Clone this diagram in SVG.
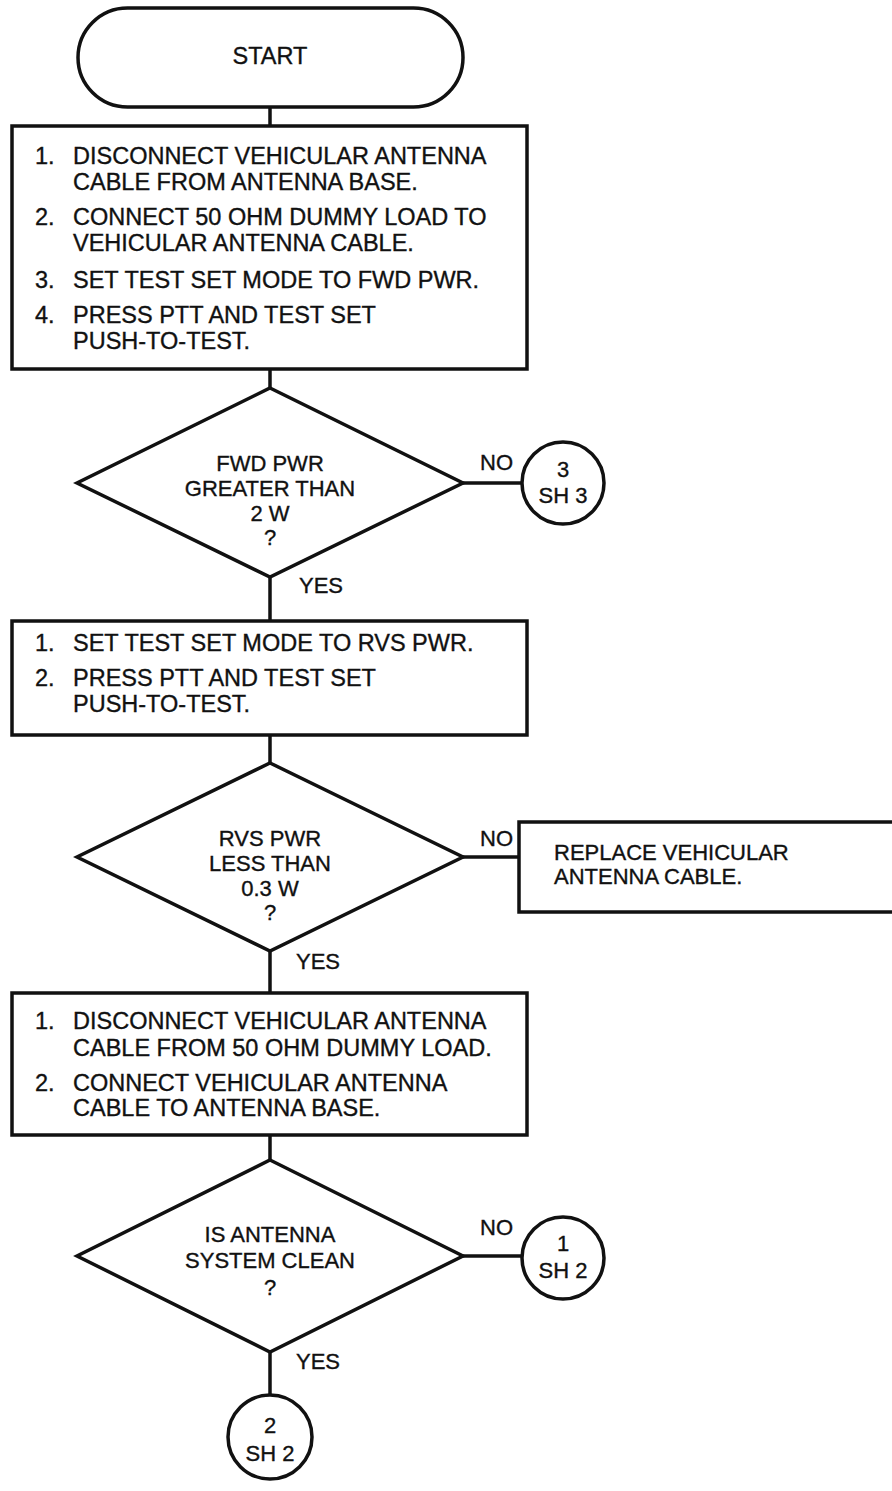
<svg xmlns="http://www.w3.org/2000/svg" width="892" height="1491" viewBox="0 0 892 1491">
<style>
.s{fill:#fff;stroke:#111;stroke-width:3.5;stroke-linejoin:miter}
.c{stroke:#111;stroke-width:3.5;fill:none}
text{font-family:"Liberation Sans",Arial,sans-serif;font-size:23.5px;fill:#111;stroke:#111;stroke-width:0.35}
.m{text-anchor:middle}
.d{font-size:22px}
</style>
<rect width="892" height="1491" fill="#fff"/>
<g id="connectors">
<line class="c" x1="270" y1="107" x2="270" y2="126"/>
<line class="c" x1="270" y1="369" x2="270" y2="388"/>
<line class="c" x1="463" y1="483" x2="522" y2="483"/>
<line class="c" x1="270" y1="577" x2="270" y2="621"/>
<line class="c" x1="270" y1="735" x2="270" y2="763"/>
<line class="c" x1="463" y1="857" x2="519" y2="857"/>
<line class="c" x1="270" y1="951" x2="270" y2="993"/>
<line class="c" x1="270" y1="1135" x2="270" y2="1160"/>
<line class="c" x1="463" y1="1256" x2="522" y2="1256"/>
<line class="c" x1="270" y1="1352" x2="270" y2="1395"/>
<text class="d" x="480" y="470">NO</text>
<text class="d" x="299" y="593">YES</text>
<text class="d" x="480" y="846">NO</text>
<text class="d" x="296" y="969">YES</text>
<text class="d" x="480" y="1235">NO</text>
<text class="d" x="296" y="1369">YES</text>
</g>
<g id="start">
<rect class="s" x="78" y="8" width="385" height="99" rx="49.5"/>
<text class="m" x="270" y="64">START</text>
</g>
<g id="box1">
<rect class="s" x="12" y="126" width="515" height="243"/>
<text x="35" y="164">1.</text><text x="73" y="164">DISCONNECT VEHICULAR ANTENNA</text>
<text x="73" y="190">CABLE FROM ANTENNA BASE.</text>
<text x="35" y="225">2.</text><text x="73" y="225">CONNECT 50 OHM DUMMY LOAD TO</text>
<text x="73" y="251">VEHICULAR ANTENNA CABLE.</text>
<text x="35" y="288">3.</text><text x="73" y="288">SET TEST SET MODE TO FWD PWR.</text>
<text x="35" y="323">4.</text><text x="73" y="323">PRESS PTT AND TEST SET</text>
<text x="73" y="349">PUSH-TO-TEST.</text>
</g>
<g id="decision1">
<polygon class="s" points="270,388 463,483 270,577 77,483"/>
<text class="m d" x="270" y="471">FWD PWR</text>
<text class="m d" x="270" y="496">GREATER THAN</text>
<text class="m d" x="270" y="521">2 W</text>
<text class="m d" x="270" y="545">?</text>
</g>
<g id="conn-3-sh3">
<circle class="s" cx="563" cy="483" r="41"/>
<text class="m d" x="563" y="477">3</text>
<text class="m d" x="563" y="503">SH 3</text>
</g>
<g id="box2">
<rect class="s" x="12" y="621" width="515" height="114"/>
<text x="35" y="651">1.</text><text x="73" y="651">SET TEST SET MODE TO RVS PWR.</text>
<text x="35" y="686">2.</text><text x="73" y="686">PRESS PTT AND TEST SET</text>
<text x="73" y="712">PUSH-TO-TEST.</text>
</g>
<g id="decision2">
<polygon class="s" points="270,763 463,857 270,951 77,857"/>
<text class="m d" x="270" y="846">RVS PWR</text>
<text class="m d" x="270" y="871">LESS THAN</text>
<text class="m d" x="270" y="896">0.3 W</text>
<text class="m d" x="270" y="920">?</text>
</g>
<g id="replace">
<rect class="s" x="519" y="822" width="390" height="90"/>
<text class="d" x="554" y="860">REPLACE VEHICULAR</text>
<text class="d" x="554" y="884">ANTENNA CABLE.</text>
</g>
<g id="box3">
<rect class="s" x="12" y="993" width="515" height="142"/>
<text x="35" y="1029">1.</text><text x="73" y="1029">DISCONNECT VEHICULAR ANTENNA</text>
<text x="73" y="1056">CABLE FROM 50 OHM DUMMY LOAD.</text>
<text x="35" y="1091">2.</text><text x="73" y="1091">CONNECT VEHICULAR ANTENNA</text>
<text x="73" y="1116">CABLE TO ANTENNA BASE.</text>
</g>
<g id="decision3">
<polygon class="s" points="270,1160 463,1256 270,1352 77,1256"/>
<text class="m d" x="270" y="1242">IS ANTENNA</text>
<text class="m d" x="270" y="1268">SYSTEM CLEAN</text>
<text class="m d" x="270" y="1295">?</text>
</g>
<g id="conn-1-sh2">
<circle class="s" cx="563" cy="1258" r="41"/>
<text class="m d" x="563" y="1251">1</text>
<text class="m d" x="563" y="1278">SH 2</text>
</g>
<g id="conn-2-sh2">
<circle class="s" cx="270" cy="1437" r="42"/>
<text class="m d" x="270" y="1433">2</text>
<text class="m d" x="270" y="1461">SH 2</text>
</g>
</svg>
